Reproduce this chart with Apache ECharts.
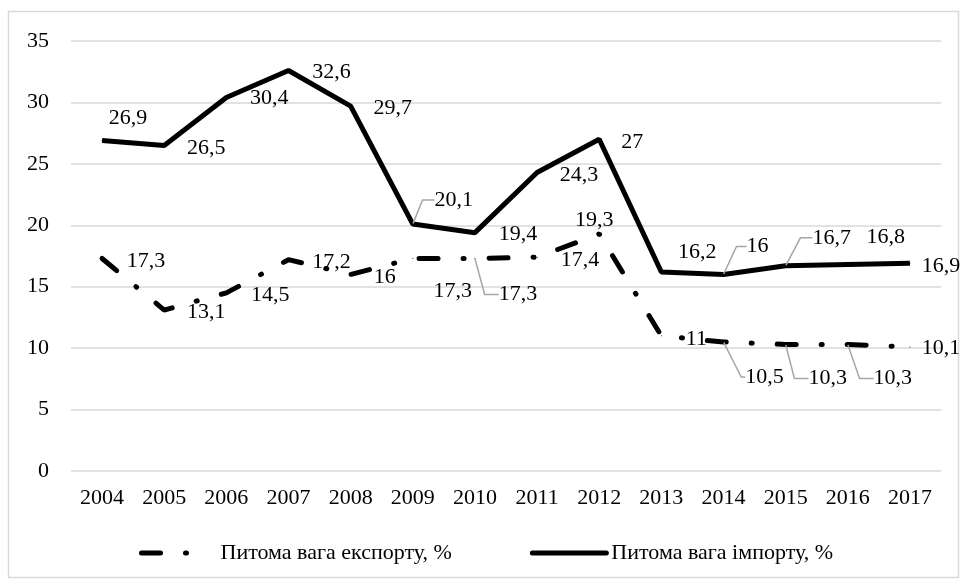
<!DOCTYPE html>
<html>
<head>
<meta charset="utf-8">
<script src="https://cdn.jsdelivr.net/npm/echarts@6/dist/echarts.min.js"></script>
<style>
  html, body { margin: 0; padding: 0; background: #fff; }
  #main { width: 968px; height: 585px; }
</style>
</head>
<body>
<div id="main"></div>
<script>
var years = ["2004", "2005", "2006", "2007", "2008", "2009", "2010", "2011", "2012", "2013", "2014", "2015", "2016", "2017"];
var exportShare = [17.3, 13.1, 14.5, 17.2, 16, 17.3, 17.3, 17.4, 19.3, 11, 10.5, 10.3, 10.3, 10.1];
var importShare = [26.9, 26.5, 30.4, 32.6, 29.7, 20.1, 19.4, 24.3, 27, 16.2, 16, 16.7, 16.8, 16.9];
var exportName = "Питома вага експорту, %";
var importName = "Питома вага імпорту, %";

// label offsets from the point (centre of label) and leader line length2 (0 = no leader)
var importOffsets = [[26,-22],[42,3],[43,1],[43,2],[42,2],[37,-24],[43,2],[42,3],[33,3],[36,-20],[30,-28],[42,-28],[38,-27],[31,3]];
var exportOffsets = [[44,3],[42,2],[44,2],[43,3],[34,3],[40,33],[39,36],[43,3],[-5,-14],[35,3],[41,35],[38,34],[41,34],[31,1]];
var importLeaders = [0, 0, 0, 0, 0, 12, 0, 0, 0, 0, 10, 12, 0, 0];
var exportLeaders = [0, 0, 0, 0, 0, 0, 14, 0, 0, 0, 4, 14, 14, 0];

var font = "'Liberation Serif', 'Times New Roman', serif";
var fs = 22;

function fmt(v) { return String(v).replace(".", ","); }

function makeData(values, leaders) {
  return values.map(function (v, i) {
    var item = { value: v, labelLine: { show: leaders[i] > 0, length2: leaders[i] } };
    if (leaders[i] > 4) item.label = { padding: [0, 0, 0, 8] };
    return item;
  });
}

var chart = echarts.init(document.getElementById("main"));
var option = {
  animation: false,
  graphic: [{
    type: "rect",
    shape: { x: 8.5, y: 11.5, width: 950, height: 566 },
    style: { fill: "none", stroke: "#d9d9d9", lineWidth: 1.5 },
    silent: true
  }],
  grid: { left: 71, right: 27, top: 41, bottom: 114 },
  legend: {
    left: 134,
    bottom: 16,
    itemWidth: 74,
    itemHeight: 14,
    itemGap: 78,
    itemStyle: { opacity: 0 },
    lineStyle: { width: 5, cap: "round" },
    textStyle: { fontFamily: font, fontSize: fs, color: "#000" },
    data: [
      { name: exportName, lineStyle: { width: 5, cap: "round", type: [19, 25, 1, 60] } },
      { name: importName }
    ]
  },
  xAxis: {
    type: "category",
    data: years,
    boundaryGap: true,
    axisLine: { show: false },
    axisTick: { show: false },
    axisLabel: { fontFamily: font, fontSize: fs, color: "#000", margin: 16 }
  },
  yAxis: {
    type: "value",
    min: 0,
    max: 35,
    interval: 5,
    axisLine: { show: false },
    axisTick: { show: false },
    splitLine: { lineStyle: { color: "#d9d9d9", width: 1.5 } },
    axisLabel: { fontFamily: font, fontSize: fs, color: "#000", margin: 22 }
  },
  series: [
    {
      name: exportName,
      type: "line",
      data: makeData(exportShare, exportLeaders),
      symbol: "circle",
      symbolSize: 1,
      itemStyle: { color: "#000" },
      lineStyle: { color: "#000", width: 5, type: [19, 25, 1, 25], cap: "round" },
      label: {
        show: true,
        position: "inside",
        fontFamily: font,
        fontSize: fs,
        color: "#000",
        formatter: function (p) { return fmt(p.value); }
      },
      labelLine: { show: false, lineStyle: { color: "#a6a6a6", width: 1.5 } },
      labelLayout: function (p) {
        var o = exportOffsets[p.dataIndex];
        return { dx: o[0], dy: o[1] };
      }
    },
    {
      name: importName,
      type: "line",
      data: makeData(importShare, importLeaders),
      symbol: "circle",
      symbolSize: 1,
      itemStyle: { color: "#000" },
      lineStyle: { color: "#000", width: 5 },
      label: {
        show: true,
        position: "inside",
        fontFamily: font,
        fontSize: fs,
        color: "#000",
        formatter: function (p) { return fmt(p.value); }
      },
      labelLine: { show: false, lineStyle: { color: "#a6a6a6", width: 1.5 } },
      labelLayout: function (p) {
        var o = importOffsets[p.dataIndex];
        return { dx: o[0], dy: o[1] };
      }
    }
  ]
};
chart.setOption(option);
</script>
</body>
</html>
